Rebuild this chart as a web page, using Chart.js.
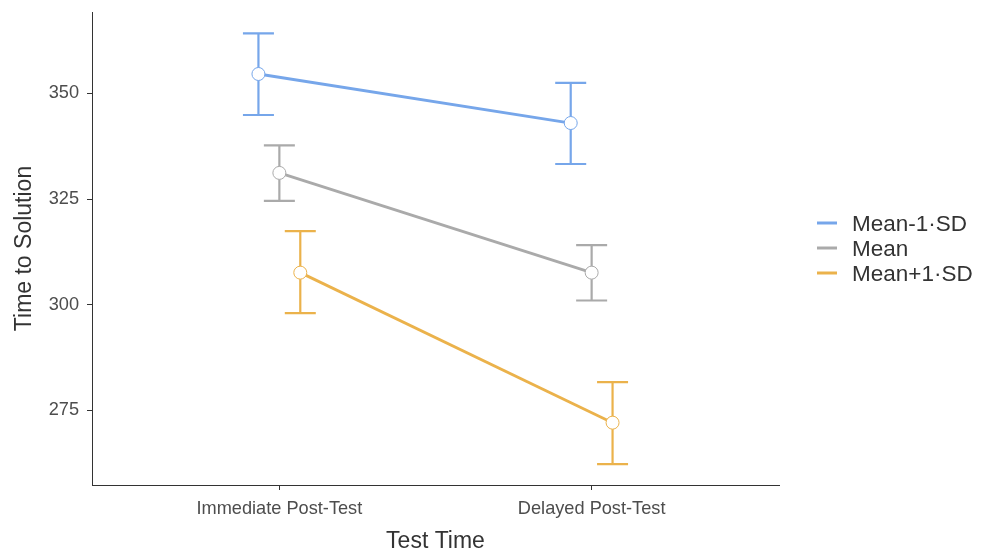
<!DOCTYPE html>
<html>
<head>
<meta charset="utf-8">
<script src="https://cdn.jsdelivr.net/npm/chart.js@4"></script>
<style>
  html, body { margin: 0; padding: 0; background: #fff; }
  #wrap { width: 981px; height: 556px; }
</style>
</head>
<body>
<div id="wrap"><canvas id="timeChart" width="981" height="556"></canvas></div>
<script>
const categories = ['Immediate Post-Test', 'Delayed Post-Test'];
const seriesNames = ['Mean-1\u00b7SD', 'Mean', 'Mean+1\u00b7SD'];
const seriesColors = ['#76a6ea', '#aaaaaa', '#ebb24b'];
const dodge = [-0.067, 0, 0.067];

// means and error bar limits, per series, per test time
const means = [
  [354.6, 343.0],
  [331.2, 307.6],
  [307.6, 272.1]
];
const lower = [
  [344.9, 333.3],
  [324.6, 301.0],
  [298.0, 262.3]
];
const upper = [
  [364.2, 352.5],
  [337.7, 314.1],
  [317.4, 281.7]
];
const yTicks = [275, 300, 325, 350];

const datasets = seriesNames.map((name, s) => ({
  label: name,
  data: categories.map((c, i) => ({ x: i + 1 + dodge[s], y: means[s][i] })),
  showLine: true,
  borderColor: seriesColors[s],
  borderWidth: 2.8,
  pointRadius: 6.5,
  pointBorderWidth: 1,
  pointBackgroundColor: '#ffffff',
  pointBorderColor: seriesColors[s]
}));

// error bars drawn under lines and points
const errorBars = {
  id: 'errorBars',
  beforeDatasetsDraw(chart) {
    const { ctx, scales: { x, y } } = chart;
    ctx.save();
    ctx.lineWidth = 2.2;
    seriesNames.forEach((name, s) => {
      ctx.strokeStyle = seriesColors[s];
      categories.forEach((c, i) => {
        const px = x.getPixelForValue(i + 1 + dodge[s]);
        const top = y.getPixelForValue(upper[s][i]);
        const bot = y.getPixelForValue(lower[s][i]);
        ctx.beginPath();
        ctx.moveTo(px, top); ctx.lineTo(px, bot);
        ctx.moveTo(px - 15.5, top); ctx.lineTo(px + 15.5, top);
        ctx.moveTo(px - 15.5, bot); ctx.lineTo(px + 15.5, bot);
        ctx.stroke();
      });
    });
    ctx.restore();
  }
};

// ggplot-style legend on the right
const sideLegend = {
  id: 'sideLegend',
  afterDraw(chart) {
    const ctx = chart.ctx;
    ctx.save();
    ctx.font = '22.5px "Liberation Sans", Arial, sans-serif';
    ctx.textBaseline = 'middle';
    ctx.fillStyle = '#333333';
    seriesNames.forEach((name, s) => {
      const yy = 223 + s * 25;
      ctx.strokeStyle = seriesColors[s];
      ctx.lineWidth = 3;
      ctx.beginPath();
      ctx.moveTo(817, yy); ctx.lineTo(837, yy);
      ctx.stroke();
      ctx.fillText(name, 852, yy + 1.5);
    });
    ctx.restore();
  }
};

const tickFont = { family: '"Liberation Sans", Arial, sans-serif', size: 18.2, lineHeight: 1 };
const titleFont = { family: '"Liberation Sans", Arial, sans-serif', size: 23 };

new Chart(document.getElementById('timeChart').getContext('2d'), {
  type: 'scatter',
  data: { datasets },
  plugins: [errorBars, sideLegend],
  options: {
    responsive: false,
    animation: false,
    layout: { padding: { top: 12, right: 202, bottom: 0, left: 0 } },
    plugins: { legend: { display: false }, tooltip: { enabled: false } },
    scales: {
      x: {
        type: 'linear',
        min: 0.4,
        max: 2.6,
        afterBuildTicks: (scale) => { scale.ticks = categories.map((c, i) => ({ value: i + 1 })); },
        afterFit: (scale) => { scale.height = 71; scale.paddingLeft = 0; scale.paddingRight = 0; },
        ticks: {
          callback: (v) => categories[Math.round(v) - 1],
          font: tickFont,
          color: '#4d4d4d',
          padding: 10,
          maxRotation: 0
        },
        grid: { drawOnChartArea: false, drawTicks: true, tickLength: 5, color: '#333333' },
        border: { display: true, color: '#333333', width: 1 },
        title: { display: true, text: 'Test Time', font: titleFont, color: '#333333', padding: { top: 0, bottom: 1 } }
      },
      y: {
        min: 257.35,
        max: 369.27,
        afterBuildTicks: (scale) => { scale.ticks = yTicks.map(v => ({ value: v })); },
        afterFit: (scale) => { scale.width = 92; scale.paddingTop = 0; scale.paddingBottom = 0; },
        ticks: { font: tickFont, color: '#4d4d4d', padding: 8 },
        grid: { drawOnChartArea: false, drawTicks: true, tickLength: 5, color: '#333333' },
        border: { display: true, color: '#333333', width: 1 },
        title: { display: true, text: 'Time to Solution', font: titleFont, color: '#333333', padding: { top: 11, bottom: 0 } }
      }
    }
  }
});
</script>
</body>
</html>
